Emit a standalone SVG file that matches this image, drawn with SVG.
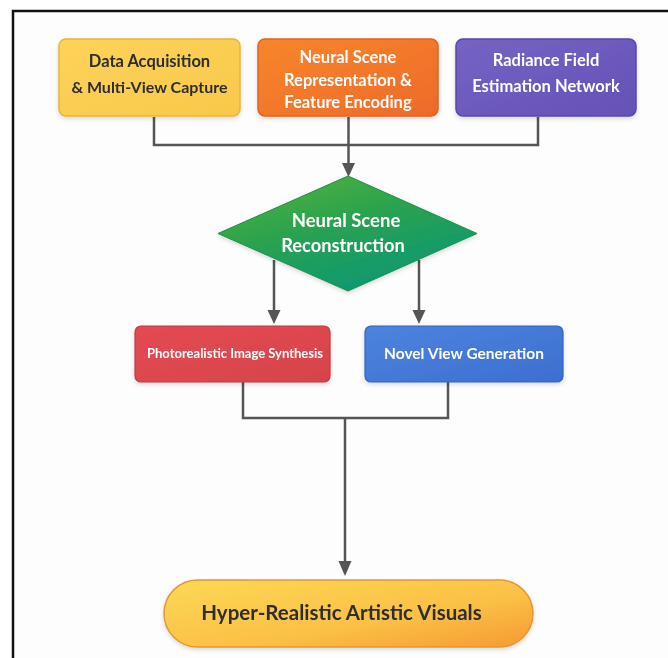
<svg xmlns="http://www.w3.org/2000/svg" width="668" height="658" viewBox="0 0 668 658">
<style>
  .t { font-family: Lato, "Open Sans", "Liberation Sans", sans-serif; font-weight: bold; text-anchor: middle; dominant-baseline: central; }
  .dark { fill: #2e2e2e; }
  .light { fill: #ffffff; }
  .conn { fill: none; stroke: #555555; stroke-width: 2.5; }
</style>
<defs>
  <linearGradient id="gY" x1="0" y1="0" x2="1" y2="1"><stop offset="0" stop-color="#fdd35a"/><stop offset="1" stop-color="#f8c84a"/></linearGradient>
  <linearGradient id="gO" x1="0" y1="0" x2="1" y2="1"><stop offset="0" stop-color="#f7862c"/><stop offset="1" stop-color="#ee6a2c"/></linearGradient>
  <linearGradient id="gP" x1="0" y1="0" x2="1" y2="1"><stop offset="0" stop-color="#7563c4"/><stop offset="1" stop-color="#6651b8"/></linearGradient>
  <linearGradient id="gG" x1="0" y1="0" x2="0.6" y2="1"><stop offset="0" stop-color="#56b33a"/><stop offset="0.5" stop-color="#2aa24f"/><stop offset="1" stop-color="#0c9874"/></linearGradient>
  <linearGradient id="gR" x1="0" y1="0" x2="1" y2="1"><stop offset="0" stop-color="#e34b52"/><stop offset="1" stop-color="#d6434a"/></linearGradient>
  <linearGradient id="gB" x1="0" y1="0" x2="1" y2="1"><stop offset="0" stop-color="#4d84de"/><stop offset="1" stop-color="#3d6ed1"/></linearGradient>
  <linearGradient id="gF" x1="0" y1="0" x2="1" y2="1"><stop offset="0" stop-color="#fdd856"/><stop offset="0.6" stop-color="#fbc046"/><stop offset="1" stop-color="#f69a32"/></linearGradient>
  <filter id="sh" x="-10%" y="-10%" width="120%" height="130%"><feDropShadow dx="0" dy="2" stdDeviation="2" flood-color="#000" flood-opacity="0.15"/></filter>
</defs>
<rect x="0" y="0" width="668" height="658" fill="#ffffff"/>
<rect x="13" y="11" width="680" height="680" fill="#fdfdfd" stroke="#111111" stroke-width="2.5"/>

<g id="connectors">
  <path class="conn" d="M154,117 V145 H538 V117"/>
  <path class="conn" d="M348.5,117 V164"/>
  <path d="M342,163 L355,163 L348.5,177 Z" fill="#555555"/>
  <path class="conn" d="M274,260 V311"/>
  <path d="M267.5,310 L280.5,310 L274,324 Z" fill="#555555"/>
  <path class="conn" d="M419,260 V311"/>
  <path d="M412.5,310 L425.5,310 L419,324 Z" fill="#555555"/>
  <path class="conn" d="M243,382 V418 H448 V382"/>
  <path class="conn" d="M345,418 V562"/>
  <path d="M338.5,561 L351.5,561 L345,576 Z" fill="#555555"/>
</g>

<g id="n1" filter="url(#sh)">
  <rect x="59" y="39" width="181" height="77" rx="7" fill="url(#gY)" stroke="#e9b43c" stroke-width="1.5"/>
  <text class="t dark" x="149.5" y="61" font-size="16.5">Data Acquisition</text>
  <text class="t dark" x="149.5" y="86" font-size="16">&amp; Multi-View Capture</text>
</g>
<g id="n2" filter="url(#sh)">
  <rect x="258" y="39" width="180" height="77" rx="7" fill="url(#gO)" stroke="#e3621f" stroke-width="1.5"/>
  <text class="t light" x="348" y="57" font-size="16.5">Neural Scene</text>
  <text class="t light" x="348" y="80" font-size="16.5">Representation &amp;</text>
  <text class="t light" x="348" y="102" font-size="16.5">Feature Encoding</text>
</g>
<g id="n3" filter="url(#sh)">
  <rect x="456" y="39" width="180" height="77" rx="7" fill="url(#gP)" stroke="#5a47a8" stroke-width="1.5"/>
  <text class="t light" x="546" y="60" font-size="16.5">Radiance Field</text>
  <text class="t light" x="546" y="86" font-size="16.5">Estimation Network</text>
</g>
<g id="n4" filter="url(#sh)">
  <polygon points="348,176 477,233.5 348,291 218,233.5" fill="url(#gG)" stroke="#1e8f4a" stroke-width="1"/>
  <text class="t light" x="346" y="220" font-size="18.5">Neural Scene</text>
  <text class="t light" x="343" y="245" font-size="18.3">Reconstruction</text>
</g>
<g id="n5" filter="url(#sh)">
  <rect x="135" y="326" width="195" height="56" rx="6" fill="url(#gR)" stroke="#c23a41" stroke-width="1.2"/>
  <text class="t light" x="235" y="353" font-size="13">Photorealistic Image Synthesis</text>
</g>
<g id="n6" filter="url(#sh)">
  <rect x="365" y="326" width="198" height="56" rx="6" fill="url(#gB)" stroke="#3563c0" stroke-width="1.2"/>
  <text class="t light" x="464" y="353" font-size="15.5">Novel View Generation</text>
</g>
<g id="n7" filter="url(#sh)">
  <rect x="164" y="580" width="369" height="67" rx="33.5" fill="url(#gF)" stroke="#e39832" stroke-width="1.5"/>
  <text class="t dark" x="341.5" y="612" font-size="20.5">Hyper-Realistic Artistic Visuals</text>
</g>
</svg>
